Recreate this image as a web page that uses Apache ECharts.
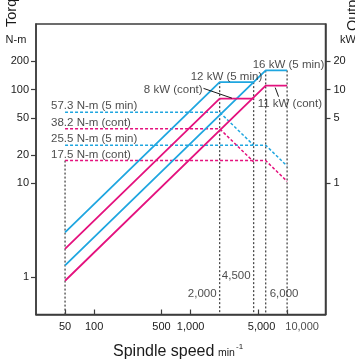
<!DOCTYPE html>
<html>
<head>
<meta charset="utf-8">
<script src="https://cdn.jsdelivr.net/npm/echarts@6/dist/echarts.min.js"></script>
<style>
  html, body { margin: 0; padding: 0; background: #fff; }
  #chart { width: 355px; height: 359px; }
</style>
</head>
<body>
<div id="chart"></div>
<script>
// Axis tick values
const speedTicks = [50, 100, 500, 1000, 5000, 10000];
const torqueTicks = [1, 10, 20, 50, 100, 200];
const outputTicks = [1, 5, 10, 20];

// Output (kW) against spindle speed (min^-1)
const output12 = [[50, 0.300], [2000, 12], [4500, 12]];
const output8 = [[50, 0.200], [2000, 8], [4500, 8]];
const output16 = [[50, 0.1335], [6000, 16], [10000, 16]];
const output11 = [[50, 0.0916], [6000, 11], [10000, 11]];

// Torque (N-m) against spindle speed (min^-1)
const torque573 = [[50, 57.3], [2000, 57.3], [4500, 25.5]];
const torque382 = [[50, 38.2], [2000, 38.2], [4500, 17.0]];
const torque255 = [[50, 25.5], [6000, 25.5], [10000, 15.3]];
const torque175 = [[50, 17.5], [6000, 17.5], [10000, 10.5]];

// Reference speeds and the output (kW) where each guide line starts
const guideSpeeds = [50, 2000, 4500, 6000, 10000];
const guideTops = [1.75, 12, 12, 16, 16];

// Label texts
const torqueNames = ['57.3 N-m (5 min)', '38.2 N-m (cont)', '25.5 N-m (5 min)', '17.5 N-m (cont)'];
const outputNames = ['12 kW (5 min)', '8 kW (cont)', '16 kW (5 min)', '11 kW (cont)'];
const speedNames = ['2,000', '4,500', '6,000'];
const speedNameValues = [2000, 4500, 6000];

// Leader lines from output labels to their curves (speed, kW)
const leader8 = [[1360, 10.3], [2680, 8.1]];
const leader11 = [[7530, 10.5], [8160, 8.4]];

const BLUE = '#1fa6e0';
const PINK = '#e4127e';
const GREY = '#4a4a4a';
const INK = '#1a1a1a';
const FONT = "'Liberation Sans', Arial, Helvetica, sans-serif";
const OUT_MIN = 0.04;
const fmtSpeed = v => Number(v).toLocaleString('en-US');

const chart = echarts.init(document.getElementById('chart'), null, { renderer: 'canvas' });

function solid(data, color) {
  return { type: 'line', yAxisIndex: 1, data, symbol: 'none', silent: true,
    lineStyle: { color, width: 1.8 }, z: 4, animation: false };
}
function dashed(data, color) {
  return { type: 'line', yAxisIndex: 0, data, symbol: 'none', silent: true,
    lineStyle: { color, width: 1.5, type: [3, 2] }, z: 3, animation: false };
}

const guideSeries = guideSpeeds.map((s, i) => ({
  type: 'line', yAxisIndex: 1, symbol: 'none', silent: true, animation: false, z: 2,
  data: [[s, guideTops[i]], [s, OUT_MIN]],
  lineStyle: { color: GREY, width: 1.3, type: [2, 2] }
}));

const leaderSeries = [leader8, leader11].map(d => ({
  type: 'line', yAxisIndex: 1, symbol: 'none', silent: true, animation: false, z: 5,
  data: d, lineStyle: { color: INK, width: 1 }
}));

function labelPoint(value, text, align, offset, fontSize) {
  return {
    value, name: text,
    label: { show: true, formatter: '{b}', align, verticalAlign: 'middle',
      position: 'inside', offset, color: INK, fontSize: fontSize || 11.5, fontFamily: FONT }
  };
}

const torqueCurves = [torque573, torque382, torque255, torque175];
const outputCurves = [output12, output8, output16, output11];
const outputLabelStyle = [
  { align: 'left', offset: [-29, -5] },
  { align: 'right', offset: [-17, -9] },
  { align: 'left', offset: [-13, -6] },
  { align: 'left', offset: [-8, 18] }
];
const speedLabelStyle = [
  { align: 'right', offset: [-3, -21] },
  { align: 'right', offset: [-3, -39] },
  { align: 'left', offset: [4, -21] }
];

// The last speed tick label sits right of its tick, drawn apart from the axis labels
const lastSpeed = speedTicks[speedTicks.length - 1];
const axisLabelSpeeds = speedTicks.slice(0, -1);

const labelsLeft = {
  type: 'scatter', yAxisIndex: 0, symbolSize: 1, silent: true, animation: false, z: 6,
  itemStyle: { color: 'rgba(0,0,0,0)' },
  data: torqueCurves.map((c, i) => labelPoint(c[0], torqueNames[i], 'left', [-14, -6]))
};
const labelsRight = {
  type: 'scatter', yAxisIndex: 1, symbolSize: 1, silent: true, animation: false, z: 6,
  itemStyle: { color: 'rgba(0,0,0,0)' },
  data: outputCurves.map((c, i) => labelPoint(c[1], outputNames[i],
          outputLabelStyle[i].align, outputLabelStyle[i].offset))
    .concat(speedNameValues.map((s, i) => labelPoint([s, OUT_MIN], speedNames[i],
          speedLabelStyle[i].align, speedLabelStyle[i].offset)))
    .concat([labelPoint([lastSpeed, OUT_MIN], fmtSpeed(lastSpeed), 'center', [15, 12.5], 11)])
};
// keep out-of-grid label visible
labelsRight.clip = false;

const axisLineStyle = { color: '#3c3c3c', width: 1.5 };
const tickLabel = { color: INK, fontFamily: FONT,
  showMinLabel: true, showMaxLabel: true, hideOverlap: false };

const option = {
  backgroundColor: '#fff',
  animation: false,
  grid: { left: 36, right: 29.5, top: 24, bottom: 44.5, show: true,
    borderColor: '#3c3c3c', borderWidth: 1.5, backgroundColor: 'transparent' },
  xAxis: {
    type: 'log', logBase: 10, min: 25, max: 25000,
    axisLine: { show: true, lineStyle: axisLineStyle },
    axisTick: { show: true, inside: true, length: 5, customValues: speedTicks,
      lineStyle: { color: '#3c3c3c', width: 1.2 } },
    axisLabel: Object.assign({ customValues: axisLabelSpeeds, margin: 7, fontSize: 11,
      formatter: v => (Number(v) === 5000 ? '{s|' + fmtSpeed(v) + '}' : fmtSpeed(v)),
      rich: { s: { padding: [0, 0, 0, 7], fontSize: 11, fontFamily: FONT, color: INK } }
    }, tickLabel),
    splitLine: { show: false }, minorTick: { show: false }
  },
  yAxis: [
    {
      type: 'log', logBase: 10, min: 0.4, max: 500, position: 'left',
      axisLine: { show: true, lineStyle: axisLineStyle },
      axisTick: { show: true, length: 5, customValues: torqueTicks,
        lineStyle: { color: '#3c3c3c', width: 1.2 } },
      axisLabel: Object.assign({ customValues: torqueTicks, margin: 7, fontSize: 11 }, tickLabel),
      splitLine: { show: false }
    },
    {
      type: 'log', logBase: 10, min: OUT_MIN, max: 50, position: 'right',
      axisLine: { show: true, lineStyle: axisLineStyle },
      axisTick: { show: true, length: 5, customValues: outputTicks,
        lineStyle: { color: '#3c3c3c', width: 1.2 } },
      axisLabel: Object.assign({ customValues: outputTicks, margin: 8, fontSize: 11 }, tickLabel),
      splitLine: { show: false }
    }
  ],
  graphic: [
    { type: 'text', x: 12, y: 27, rotation: Math.PI / 2,
      style: { text: 'Torque', fill: INK, font: '14.5px ' + FONT, textAlign: 'left', textVerticalAlign: 'middle' } },
    { type: 'text', x: 16, y: 40,
      style: { text: 'N-m', fill: INK, font: '11px ' + FONT, textAlign: 'center', textVerticalAlign: 'middle' } },
    { type: 'text', x: 353, y: 31, rotation: Math.PI / 2,
      style: { text: 'Output', fill: INK, font: '14.5px ' + FONT, textAlign: 'left', textVerticalAlign: 'middle' } },
    { type: 'text', x: 348, y: 40,
      style: { text: 'kW', fill: INK, font: '11px ' + FONT, textAlign: 'center', textVerticalAlign: 'middle' } },
    { type: 'text', x: 113, y: 352,
      style: { text: 'Spindle speed', fill: INK, font: '16px ' + FONT, textAlign: 'left', textVerticalAlign: 'middle' } },
    { type: 'text', x: 218, y: 353,
      style: { text: 'min', fill: INK, font: '10.5px ' + FONT, textAlign: 'left', textVerticalAlign: 'middle' } },
    { type: 'text', x: 236, y: 347,
      style: { text: '-1', fill: INK, font: '8px ' + FONT, textAlign: 'left', textVerticalAlign: 'middle' } }
  ],
  series: [
    ...guideSeries,
    dashed(torque573, BLUE), dashed(torque255, BLUE),
    dashed(torque382, PINK), dashed(torque175, PINK),
    solid(output12, BLUE), solid(output16, BLUE),
    solid(output8, PINK), solid(output11, PINK),
    ...leaderSeries,
    labelsLeft, labelsRight
  ]
};

chart.setOption(option);
</script>
</body>
</html>
